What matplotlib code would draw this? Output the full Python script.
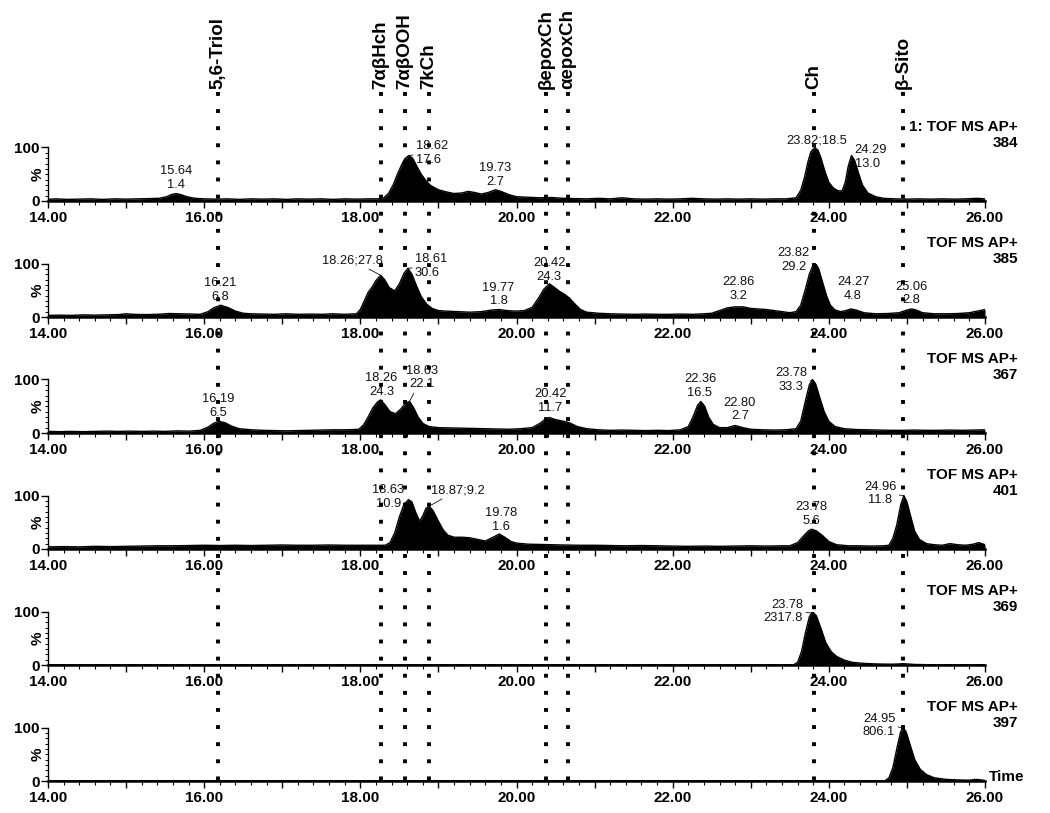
import numpy as np
import matplotlib
matplotlib.use("Agg")
import matplotlib.pyplot as plt
from matplotlib.ticker import MultipleLocator

plt.rcParams['font.family'] = ['Liberation Sans', 'DejaVu Sans']

# ---------------- data ----------------
compounds = ["5,6-Triol", "7αβHch", "7αβOOH", "7kCh", "βepoxCh", "αepoxCh", "Ch", "β-Sito"]
compound_rt = [16.18, 18.26, 18.57, 18.88, 20.38, 20.66, 23.81, 24.95]

channel_titles = ["1: TOF MS AP+", "TOF MS AP+", "TOF MS AP+", "TOF MS AP+", "TOF MS AP+", "TOF MS AP+"]
channel_mz = ["384", "385", "367", "401", "369", "397"]

t_384 = [14.0, 14.1, 14.25, 14.4, 14.55, 14.7, 14.85, 15.0, 15.15, 15.3, 15.42, 15.52, 15.58, 15.64, 15.7,
         15.78, 15.88, 16.0, 16.15, 16.3, 16.45, 16.6, 16.75, 16.9, 17.05, 17.2, 17.35, 17.5, 17.65, 17.8,
         17.95, 18.1, 18.22, 18.3, 18.36, 18.42, 18.48, 18.53, 18.57, 18.62, 18.67, 18.72, 18.78, 18.84,
         18.9, 19.0, 19.1, 19.2, 19.3, 19.38, 19.46, 19.55, 19.64, 19.73, 19.8, 19.9, 20.0, 20.15, 20.3,
         20.45, 20.6, 20.75, 20.9, 21.05, 21.2, 21.35, 21.5, 21.65, 21.8, 21.95, 22.1, 22.25, 22.4, 22.55,
         22.7, 22.85, 23.0, 23.15, 23.3, 23.45, 23.58, 23.64, 23.69, 23.73, 23.77, 23.82, 23.86, 23.9,
         23.95, 24.0, 24.06, 24.12, 24.17, 24.21, 24.25, 24.29, 24.33, 24.38, 24.43, 24.5, 24.6, 24.7,
         24.85, 25.0, 25.15, 25.3, 25.45, 25.6, 25.75, 25.9, 26.0]
i_384 = [3, 4, 3, 3.5, 4, 3, 4, 3.5, 4, 4.5, 5, 8, 12, 14, 12, 8, 5, 4, 3.5, 4, 3, 4, 3.5, 4, 3, 4, 3.5,
         4, 3, 4, 3.5, 4, 4, 6, 14, 30, 52, 68, 79, 85, 80, 66, 50, 38, 29, 21, 17, 14, 15, 18, 16, 13, 16,
         21, 18, 12, 8, 7, 6, 6.5, 5, 4.5, 4, 5, 4, 6, 4, 3.5, 4, 3.5, 4, 5, 4, 3.5, 4, 3.5, 4, 3.5, 4, 4,
         6, 20, 45, 72, 92, 100, 95, 80, 55, 35, 24, 19, 19, 35, 66, 85, 76, 52, 30, 15, 8, 5, 4, 3.5, 4,
         3.5, 4, 3.5, 4, 5, 4]

t_385 = [14.0, 14.15, 14.3, 14.45, 14.6, 14.75, 14.9, 15.0, 15.1, 15.25, 15.4, 15.55, 15.7, 15.85, 15.95,
         16.05, 16.12, 16.21, 16.3, 16.4, 16.5, 16.6, 16.75, 16.9, 17.05, 17.2, 17.35, 17.5, 17.65, 17.8,
         17.95, 18.0, 18.05, 18.1, 18.15, 18.2, 18.26, 18.31, 18.37, 18.44, 18.5, 18.56, 18.61, 18.66,
         18.72, 18.78, 18.85, 18.92, 19.0, 19.1, 19.25, 19.4, 19.55, 19.68, 19.77, 19.88, 20.0, 20.1, 20.2,
         20.28, 20.35, 20.42, 20.48, 20.55, 20.62, 20.68, 20.75, 20.82, 20.9, 21.05, 21.2, 21.35, 21.5,
         21.65, 21.8, 21.95, 22.1, 22.25, 22.4, 22.5, 22.6, 22.7, 22.8, 22.9, 23.0, 23.1, 23.2, 23.3, 23.4,
         23.5, 23.58, 23.64, 23.7, 23.75, 23.8, 23.83, 23.87, 23.92, 23.97, 24.02, 24.08, 24.15, 24.22,
         24.28, 24.35, 24.45, 24.6, 24.75, 24.9, 25.0, 25.06, 25.12, 25.2, 25.35, 25.5, 25.65, 25.8, 25.9,
         26.0]
i_385 = [3, 3.5, 3, 4, 3.5, 4, 4.5, 6, 5, 4.5, 5, 6.5, 6, 5.5, 5, 10, 17, 22, 18, 11, 7, 6, 5.5, 5, 6, 5,
         5.5, 5, 6, 5, 6, 14, 30, 46, 56, 68, 78, 70, 55, 49, 62, 82, 91, 80, 58, 38, 24, 16, 12, 11, 10, 9,
         10, 13, 14, 12, 11, 12, 18, 35, 52, 62, 56, 48, 42, 35, 24, 14, 9, 7, 6, 5.5, 5, 5.5, 5, 5, 5.5, 5,
         6, 7, 12, 17, 19, 19, 16, 15, 14, 12, 10, 8, 10, 22, 52, 80, 98, 100, 90, 65, 40, 22, 13, 10, 12,
         15, 13, 8, 6, 6.5, 8, 13, 15, 13, 8, 6, 6, 6.5, 8, 11, 14]

t_367 = [14.0, 14.15, 14.3, 14.45, 14.6, 14.75, 14.9, 15.05, 15.2, 15.35, 15.5, 15.65, 15.8, 15.95, 16.05,
         16.12, 16.19, 16.27, 16.35, 16.45, 16.6, 16.75, 16.9, 17.05, 17.2, 17.35, 17.5, 17.65, 17.8, 17.92,
         17.98, 18.04, 18.1, 18.16, 18.22, 18.26, 18.32, 18.38, 18.45, 18.52, 18.58, 18.63, 18.68, 18.74,
         18.8, 18.88, 19.0, 19.15, 19.3, 19.45, 19.6, 19.75, 19.9, 20.05, 20.2, 20.3, 20.37, 20.42, 20.5,
         20.6, 20.68, 20.78, 20.9, 21.05, 21.2, 21.35, 21.5, 21.65, 21.8, 21.95, 22.1, 22.2, 22.26, 22.32,
         22.36, 22.41, 22.46, 22.52, 22.6, 22.7, 22.8, 22.9, 23.0, 23.15, 23.3, 23.45, 23.58, 23.64, 23.7,
         23.75, 23.79, 23.83, 23.88, 23.94, 24.0, 24.08, 24.2, 24.35, 24.5, 24.65, 24.8, 24.95, 25.1, 25.25,
         25.4, 25.55, 25.7, 25.85, 26.0]
i_367 = [3, 2.5, 3, 2.5, 3, 3.5, 3, 3.5, 3, 3.5, 3, 4, 3.5, 5, 11, 18, 22, 19, 13, 8, 6, 5, 4.5, 4, 4.5, 5,
         5.5, 6, 6, 6.5, 7, 15, 30, 47, 58, 62, 52, 40, 36, 45, 56, 59, 48, 30, 18, 12, 10, 9.5, 9, 8.5, 8,
         7.5, 7, 8, 10, 18, 26, 29, 25, 22, 19, 12, 8, 6, 5, 5.5, 5, 4.5, 5, 4.5, 6, 12, 30, 52, 59, 50, 30,
         16, 10, 10, 14, 10, 7, 6, 5.5, 6, 8, 22, 60, 90, 100, 92, 68, 40, 22, 12, 8, 6.5, 6, 5.5, 5, 5,
         5.5, 5, 5, 5.5, 5, 5.5, 6]

t_401 = [14.0, 14.2, 14.4, 14.6, 14.8, 15.0, 15.2, 15.4, 15.6, 15.8, 16.0, 16.2, 16.4, 16.6, 16.8, 17.0,
         17.2, 17.4, 17.6, 17.8, 18.0, 18.15, 18.25, 18.32, 18.38, 18.44, 18.5, 18.56, 18.62, 18.66, 18.71,
         18.76, 18.8, 18.84, 18.88, 18.93, 19.0, 19.06, 19.12, 19.2, 19.3, 19.4, 19.5, 19.6, 19.7, 19.78,
         19.85, 19.93, 20.0, 20.15, 20.3, 20.45, 20.6, 20.8, 21.0, 21.2, 21.4, 21.6, 21.8, 22.0, 22.2, 22.4,
         22.6, 22.8, 23.0, 23.2, 23.4, 23.5, 23.6, 23.68, 23.74, 23.78, 23.84, 23.92, 24.0, 24.1, 24.25,
         24.4, 24.55, 24.7, 24.77, 24.82, 24.87, 24.92, 24.96, 25.0, 25.05, 25.1, 25.16, 25.25, 25.35, 25.45,
         25.55, 25.65, 25.75, 25.85, 25.92, 26.0]
i_401 = [4, 4.5, 4, 5, 4.5, 5, 5.5, 6, 6, 6.5, 7, 6.5, 7, 6.5, 7, 7.5, 7, 7, 7.5, 7, 7, 7, 7, 7, 12, 30, 60,
         84, 92, 88, 68, 52, 62, 76, 80, 72, 52, 36, 26, 22, 22, 21, 18, 15, 22, 28, 22, 14, 11, 9, 8.5, 8,
         7.5, 7, 7, 6.5, 6, 6.5, 6, 5.5, 5, 5.5, 5, 5.5, 6, 5.5, 6, 6, 12, 25, 34, 37, 34, 25, 14, 8, 6, 6,
         5.5, 6, 7, 20, 45, 82, 100, 88, 60, 33, 18, 10, 8, 7, 10, 8, 7, 9, 12, 8]

t_369 = [14.0, 16.0, 18.0, 20.0, 22.0, 23.55, 23.6, 23.65, 23.7, 23.75, 23.79, 23.84, 23.9, 23.96, 24.03,
         24.1, 24.2, 24.3, 24.45, 24.6, 24.8, 24.9, 24.95, 25.0, 25.1, 25.3, 26.0]
i_369 = [0.5, 0.5, 0.5, 0.5, 0.5, 0.5, 5, 25, 60, 90, 100, 92, 68, 42, 25, 16, 9, 5, 3, 2, 1.5, 2, 2.5, 2,
         1, 0.5, 0.5]

t_397 = [14.0, 16.0, 18.0, 20.0, 22.0, 24.0, 24.72, 24.77, 24.82, 24.87, 24.92, 24.95, 24.99, 25.04, 25.1,
         25.17, 25.25, 25.35, 25.5, 25.65, 25.8, 25.88, 25.95, 26.0]
i_397 = [0.5, 0.5, 0.5, 0.5, 0.5, 0.5, 0.5, 6, 25, 60, 92, 100, 92, 68, 40, 22, 12, 6, 3, 2, 1.5, 3, 2, 1]

traces_t = [t_384, t_385, t_367, t_401, t_369, t_397]
traces_i = [i_384, i_385, i_367, i_401, i_369, i_397]

# peak labels (retention time, area)
peak_rt = [
    [15.64, 18.62, 19.73, 23.82, 24.29],
    [16.21, 18.26, 18.61, 19.77, 20.42, 22.86, 23.82, 24.27, 25.06],
    [16.19, 18.26, 18.63, 20.42, 22.36, 22.80, 23.78],
    [18.63, 18.87, 19.78, 23.78, 24.96],
    [23.78],
    [24.95],
]
peak_area = [
    ["1.4", "17.6", "2.7", "18.5", "13.0"],
    ["6.8", "27.8", "30.6", "1.8", "24.3", "3.2", "29.2", "4.8", "2.8"],
    ["6.5", "24.3", "22.1", "11.7", "16.5", "2.7", "33.3"],
    ["10.9", "9.2", "1.6", "5.6", "11.8"],
    ["2317.8"],
    ["806.1"],
]

# ---------------- layout ----------------
# (text x, text y, ha, va, separator, leader)
label_layout = [
    [(15.64, 19, 'center', 'bottom', '\n', False), (18.71, 114, 'left', 'top', '\n', True),
     (19.73, 24, 'center', 'bottom', '\n', False), (23.84, 101, 'center', 'bottom', ';', False),
     (24.33, 107, 'left', 'top', '\n', True)],
    [(16.21, 26, 'center', 'bottom', '\n', False), (18.29, 106, 'right', 'center', ';', True),
     (18.70, 119, 'left', 'top', '\n', True), (19.77, 18, 'center', 'bottom', '\n', False),
     (20.42, 63, 'center', 'bottom', '\n', False), (22.84, 28, 'center', 'bottom', '\n', False),
     (23.55, 130, 'center', 'top', '\n', True), (24.31, 28, 'center', 'bottom', '\n', False),
     (25.06, 20, 'center', 'bottom', '\n', False)],
    [(16.18, 27, 'center', 'bottom', '\n', False), (18.27, 66, 'center', 'bottom', '\n', False),
     (18.79, 128, 'center', 'top', '\n', True), (20.43, 36, 'center', 'bottom', '\n', False),
     (22.35, 64, 'center', 'bottom', '\n', False), (22.86, 20, 'center', 'bottom', '\n', False),
     (23.52, 123, 'center', 'top', '\n', True)],
    [(18.36, 121, 'center', 'top', '\n', True), (18.90, 110, 'left', 'center', ';', True),
     (19.80, 30, 'center', 'bottom', '\n', False), (23.78, 41, 'center', 'bottom', '\n', False),
     (24.66, 128, 'center', 'top', '\n', True)],
    [(23.67, 124, 'right', 'top', '\n', True)],
    [(24.85, 128, 'right', 'top', '\n', True)],
]

W, H = 1050, 813
fig = plt.figure(figsize=(W / 100, H / 100), dpi=100)

x_left_px, x_right_px = 48, 985
baselines_px = [201, 317, 433, 549, 665, 781]
panel_h_px = 53.5

axes = []
for k in range(6):
    b = baselines_px[k]
    ax = fig.add_axes([x_left_px / W, 1 - b / H, (x_right_px - x_left_px) / W, panel_h_px / H])
    axes.append(ax)
    t = np.array(traces_t[k])
    y = np.array(traces_i[k])
    ax.fill_between(t, 0, y, color='black', lw=0, zorder=2)
    ax.plot(t, y, color='black', lw=1.0, zorder=3)
    ax.set_xlim(14, 26)
    ax.set_ylim(0, 100)
    ax.patch.set_visible(False)
    for s in ['top', 'right']:
        ax.spines[s].set_visible(False)
    ax.spines['bottom'].set_linewidth(1.8)
    ax.spines['left'].set_linewidth(1.0)
    ticks = np.arange(14, 26.01, 1)
    ax.set_xticks(ticks)
    ax.set_xticklabels([f"{v:.2f}" if int(round(v)) % 2 == 0 else "" for v in ticks],
                       fontsize=11, fontweight='bold')
    ax.xaxis.set_minor_locator(MultipleLocator(0.2))
    ax.tick_params(axis='x', which='major', length=5, width=1.0, pad=2, direction='out')
    ax.tick_params(axis='x', which='minor', length=3, width=0.8, direction='out')
    ax.set_yticks([0, 100])
    ax.set_yticklabels(["0", "100"], fontsize=11, fontweight='bold')
    ax.yaxis.set_minor_locator(MultipleLocator(10))
    ax.tick_params(axis='y', which='major', length=5, width=1.0, pad=1)
    ax.tick_params(axis='y', which='minor', length=2.5, width=0.7)
    ax.text(-0.011, 0.5, "%", transform=ax.transAxes, rotation=90, ha='center', va='center',
            fontsize=11, fontweight='bold')
    ax.text(1.035, 1.39, channel_titles[k], transform=ax.transAxes, ha='right', va='center',
            fontsize=11, fontweight='bold', clip_on=False)
    ax.text(1.035, 1.09, channel_mz[k], transform=ax.transAxes, ha='right', va='center',
            fontsize=11, fontweight='bold', clip_on=False)

    for rt, area, lay in zip(peak_rt[k], peak_area[k], label_layout[k]):
        tx, ty, ha, va, sep, leader = lay
        txt = f"{rt:.2f}{sep}{area}"
        peak_y = float(np.interp(rt, t, y))
        if leader:
            ax.annotate(txt, xy=(rt, peak_y), xytext=(tx, ty), textcoords='data', ha=ha, va=va,
                        fontsize=9.3, color='#111111', annotation_clip=False,
                        arrowprops=dict(arrowstyle='-', lw=0.6, color='#111111', shrinkA=0, shrinkB=0))
        else:
            ax.text(tx, ty, txt, ha=ha, va=va, fontsize=9.3, color='#111111', clip_on=False)

axes[-1].text(1.004, 0.08, "Time", transform=axes[-1].transAxes, ha='left', va='center',
              fontsize=11, fontweight='bold')

# overlay for compound marker lines
top_px = 92
ov = fig.add_axes([x_left_px / W, 1 - baselines_px[-1] / H, (x_right_px - x_left_px) / W,
                   (baselines_px[-1] - top_px) / H], zorder=10)
ov.set_xlim(14, 26)
ov.set_ylim(0, 1)
ov.axis('off')
for name, rt in zip(compounds, compound_rt):
    ov.plot([rt, rt], [1, 0], color='black', lw=2.8, linestyle=(0, (1, 3.4)), dash_capstyle='butt')
    ov.annotate(name, xy=(rt, 1), xytext=(0, 2), textcoords='offset points', rotation=90,
                ha='center', va='bottom', fontsize=13.5, fontweight='bold', annotation_clip=False)

fig.savefig("out.png", dpi=100)
